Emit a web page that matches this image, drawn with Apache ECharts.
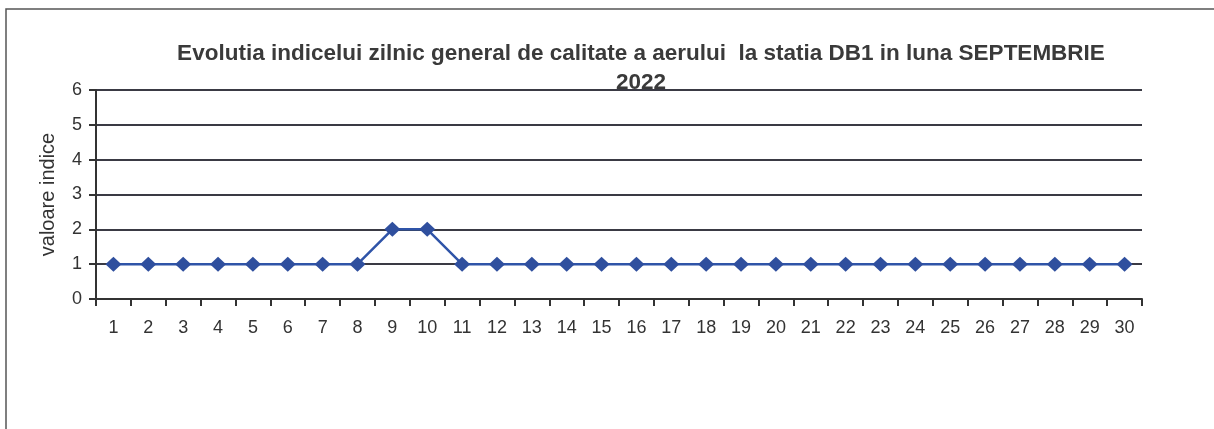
<!DOCTYPE html>
<html>
<head>
<meta charset="utf-8">
<script src="https://cdn.jsdelivr.net/npm/echarts@6/dist/echarts.min.js"></script>
<style>
html,body{margin:0;padding:0;background:#fff;}
#chart{width:1214px;height:429px;}
</style>
</head>
<body>
<div id="chart"></div>
<script>
var titleText = "Evolutia indicelui zilnic general de calitate a aerului  la statia DB1 in luna SEPTEMBRIE\n2022";
var yAxisName = "valoare indice";
var days = ["1","2","3","4","5","6","7","8","9","10","11","12","13","14","15","16","17","18","19","20","21","22","23","24","25","26","27","28","29","30"];
var indexValues = [1,1,1,1,1,1,1,1,2,2,1,1,1,1,1,1,1,1,1,1,1,1,1,1,1,1,1,1,1,1];

var chart = echarts.init(document.getElementById('chart'), null, {renderer:'canvas'});
chart.setOption({
  animation: false,
  backgroundColor: '#ffffff',
  graphic: [{
    type: 'rect',
    shape: {x: 6, y: 9, width: 1400, height: 600},
    style: {fill: 'none', stroke: '#555555', lineWidth: 1.5},
    silent: true
  }],
  title: {
    text: titleText,
    left: 636,
    textAlign: 'center',
    top: 34,
    textStyle: {fontFamily: 'Liberation Sans, Arial', fontSize: 22.5, fontWeight: 'bold', color: '#3a3a3a', lineHeight: 29}
  },
  grid: {left: 96, right: 72, top: 90, bottom: 130},
  xAxis: {
    type: 'category',
    data: days,
    boundaryGap: true,
    axisLine: {lineStyle: {color: '#333333', width: 2}},
    axisTick: {show: true, inside: false, length: 7, alignWithLabel: false, lineStyle: {color: '#333333', width: 2}},
    axisLabel: {fontFamily: 'Liberation Sans, Arial', fontSize: 18, color: '#333333', margin: 20},
    splitLine: {show: false}
  },
  yAxis: {
    type: 'value',
    min: 0, max: 6, interval: 1,
    name: yAxisName,
    nameLocation: 'middle',
    nameGap: 38,
    nameRotate: 90,
    nameTextStyle: {fontFamily: 'Liberation Sans, Arial', fontSize: 20, color: '#333333'},
    axisLine: {show: true, lineStyle: {color: '#333333', width: 2}},
    axisTick: {show: true, length: 7, lineStyle: {color: '#333333', width: 2}},
    axisLabel: {fontFamily: 'Liberation Sans, Arial', fontSize: 18, color: '#333333', margin: 14},
    splitLine: {show: true, lineStyle: {color: '#3a3a44', width: 2}}
  },
  series: [{
    type: 'line',
    data: indexValues,
    symbol: 'diamond',
    symbolSize: [16, 15],
    lineStyle: {color: '#2f54a8', width: 2.5},
    itemStyle: {color: '#2f4f9e'}
  }]
});
</script>
</body>
</html>
